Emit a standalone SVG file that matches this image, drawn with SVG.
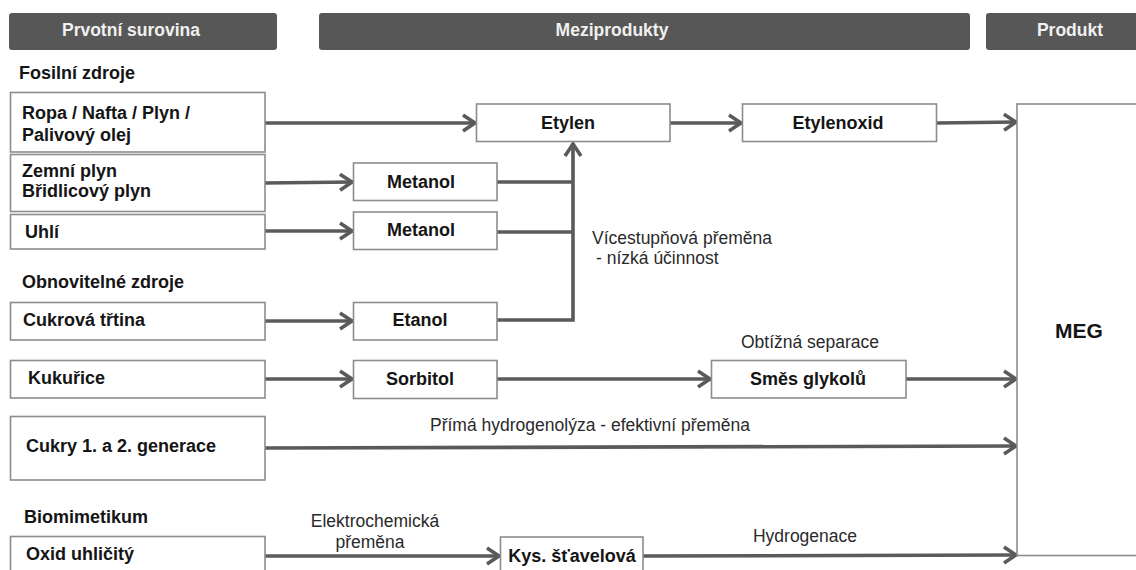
<svg xmlns="http://www.w3.org/2000/svg" width="1136" height="570" viewBox="0 0 1136 570">
<defs>
<style>
.hdr{fill:#575757;}
.htx{font-family:"Liberation Sans",Arial,sans-serif;font-weight:bold;font-size:17.5px;fill:#f0f0f0;}
.box{fill:#fff;stroke:#8c8c8c;stroke-width:1.6;}
.bt{font-family:"Liberation Sans",Arial,sans-serif;font-weight:bold;font-size:18px;fill:#151515;}
.lt{font-family:"Liberation Sans",Arial,sans-serif;font-size:17.5px;fill:#2a2a2a;}
.cn{fill:none;stroke:#5a5a5a;stroke-width:3.6;}
.ar{marker-end:url(#arr);}
</style>
<marker id="arr" markerUnits="userSpaceOnUse" markerWidth="18" markerHeight="20" viewBox="0 0 18 20" refX="15" refY="10" orient="auto">
<path d="M2,2 L14,10 L2,18" fill="none" stroke="#5a5a5a" stroke-width="3.6" stroke-linejoin="miter"/>
</marker>
</defs>
<rect width="1136" height="570" fill="#fff"/>

<g id="headers">
<rect class="hdr" x="9" y="13" width="268" height="37" rx="3"/>
<text class="htx" x="131" y="36" text-anchor="middle">Prvotní surovina</text>
<rect class="hdr" x="319" y="13" width="651" height="37" rx="3"/>
<text class="htx" x="612" y="36" text-anchor="middle">Meziprodukty</text>
<rect class="hdr" x="986" y="13" width="160" height="37" rx="3"/>
<text class="htx" x="1070" y="36" text-anchor="middle">Produkt</text>
</g>

<g id="labels">
<text class="bt" x="19" y="79">Fosilní zdroje</text>
<text class="bt" x="22" y="288">Obnovitelné zdroje</text>
<text class="bt" x="24" y="523">Biomimetikum</text>
<text class="lt" x="592" y="244">Vícestupňová přeměna</text>
<text class="lt" x="596" y="264"> - nízká účinnost</text>
<text class="lt" x="810" y="348" text-anchor="middle">Obtížná separace</text>
<text class="lt" x="430" y="431">Přímá hydrogenolýza - efektivní přeměna</text>
<text class="lt" x="375" y="527" text-anchor="middle">Elektrochemická</text>
<text class="lt" x="370" y="548" text-anchor="middle">přeměna</text>
<text class="lt" x="805" y="542" text-anchor="middle">Hydrogenace</text>
</g>

<g id="connectors">
<line class="cn ar" x1="265" y1="123" x2="476" y2="123"/>
<line class="cn ar" x1="670" y1="123" x2="742" y2="123"/>
<line class="cn ar" x1="937" y1="123" x2="1017" y2="122"/>
<line class="cn ar" x1="265" y1="183" x2="353" y2="182"/>
<line class="cn ar" x1="265" y1="231" x2="353" y2="231"/>
<polyline class="cn" points="497,182 573,182"/>
<polyline class="cn" points="497,232 573,232"/>
<polyline class="cn ar" points="497,320 573,320 573,143"/>
<line class="cn ar" x1="265" y1="321" x2="353" y2="321"/>
<line class="cn ar" x1="265" y1="379" x2="353" y2="379"/>
<line class="cn ar" x1="497" y1="379" x2="711" y2="379"/>
<line class="cn ar" x1="906" y1="379" x2="1017" y2="379"/>
<line class="cn ar" x1="265" y1="448" x2="1017" y2="446"/>
<line class="cn ar" x1="265" y1="556" x2="500" y2="556"/>
<line class="cn ar" x1="643" y1="556" x2="1017" y2="555"/>
</g>

<g id="n-ropa"><rect class="box" x="10.5" y="92.5" width="254.5" height="59.5"/>
<text class="bt" x="22" y="119">Ropa / Nafta / Plyn /</text>
<text class="bt" x="22" y="141">Palivový olej</text></g>
<g id="n-zemni"><rect class="box" x="10.5" y="154.5" width="254.5" height="57"/>
<text class="bt" x="22" y="177">Zemní plyn</text>
<text class="bt" x="22" y="197">Břidlicový plyn</text></g>
<g id="n-uhli"><rect class="box" x="10.5" y="214.5" width="254.5" height="34.5"/>
<text class="bt" x="25" y="238">Uhlí</text></g>
<g id="n-cukrova"><rect class="box" x="10.5" y="302.5" width="254.5" height="37.5"/>
<text class="bt" x="23" y="326">Cukrová třtina</text></g>
<g id="n-kukurice"><rect class="box" x="10.5" y="360.5" width="254.5" height="37.5"/>
<text class="bt" x="28" y="384">Kukuřice</text></g>
<g id="n-cukry"><rect class="box" x="10.5" y="416.5" width="254.5" height="63.5"/>
<text class="bt" x="26" y="452">Cukry 1. a 2. generace</text></g>
<g id="n-oxid"><rect class="box" x="10.5" y="536.5" width="254.5" height="45"/>
<text class="bt" x="26" y="560">Oxid uhličitý</text></g>

<g id="n-metanol1"><rect class="box" x="353.5" y="163" width="143.5" height="37.5"/>
<text class="bt" x="421" y="188" text-anchor="middle">Metanol</text></g>
<g id="n-metanol2"><rect class="box" x="353.5" y="212" width="143.5" height="37.5"/>
<text class="bt" x="421" y="236" text-anchor="middle">Metanol</text></g>
<g id="n-etanol"><rect class="box" x="353.5" y="302.5" width="143.5" height="37.5"/>
<text class="bt" x="420" y="326" text-anchor="middle">Etanol</text></g>
<g id="n-sorbitol"><rect class="box" x="353.5" y="360.5" width="143.5" height="38"/>
<text class="bt" x="420" y="385" text-anchor="middle">Sorbitol</text></g>
<g id="n-kys"><rect class="box" x="500.5" y="537" width="142.5" height="45"/>
<text class="bt" x="572" y="562" text-anchor="middle">Kys. šťavelová</text></g>

<g id="n-etylen"><rect class="box" x="476.5" y="104" width="193.5" height="37.5"/>
<text class="bt" x="568" y="129" text-anchor="middle">Etylen</text></g>
<g id="n-etylenoxid"><rect class="box" x="742.5" y="104" width="194" height="37.5"/>
<text class="bt" x="838" y="129" text-anchor="middle">Etylenoxid</text></g>
<g id="n-smes"><rect class="box" x="711.5" y="360.5" width="194.5" height="37.5"/>
<text class="bt" x="808" y="385" text-anchor="middle">Směs glykolů</text></g>

<g id="n-meg"><rect class="box" x="1017" y="104" width="140" height="451.5"/>
<text class="bt" x="1079" y="338" text-anchor="middle" style="font-size:21px">MEG</text></g>
</svg>
